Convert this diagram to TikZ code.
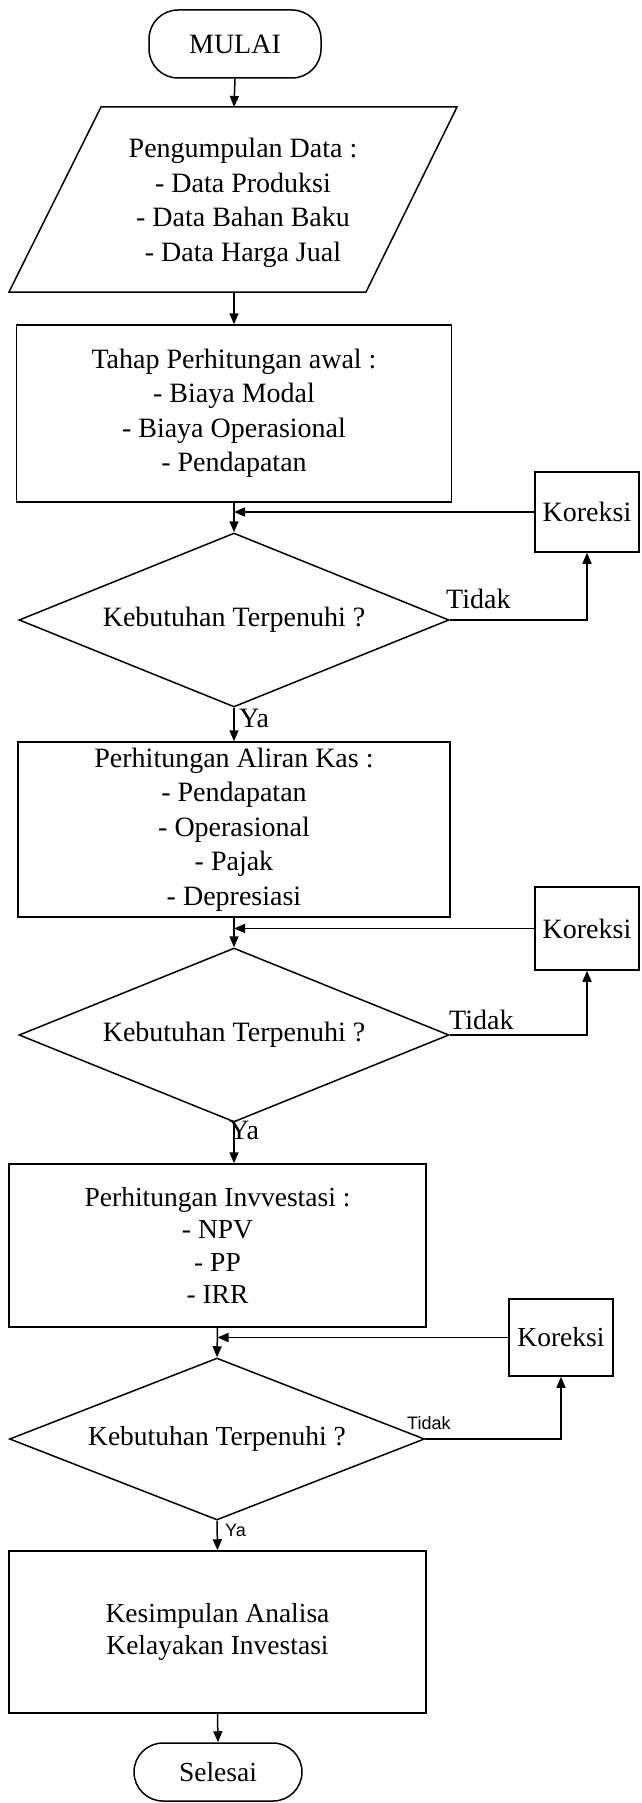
\documentclass[tikz,border=0pt]{standalone}
\usepackage{fontspec}
\setmainfont{Liberation Serif}
\newfontfamily\labelsans{Liberation Sans}
\usetikzlibrary{shapes.geometric,arrows.meta}

\begin{document}
\begin{tikzpicture}[x=1pt,y=-1pt,
    flowline/.style={line width=1.5pt},
    arr/.style={flowline, -{Triangle[length=11pt,width=9pt]}},
    uptext/.style={font=\fontsize{28}{34.5}\selectfont, align=center},
    lowtext/.style={font=\fontsize{27.5}{32.5}\selectfont, align=center},
    terminal/.style={draw, flowline, rectangle, rounded corners=29pt, inner sep=0pt},
    process/.style={draw, flowline, rectangle, inner sep=0pt},
    decision/.style={draw, flowline, diamond, aspect=2.5, inner sep=0pt},
    answer/.style={inner sep=0pt, anchor=west}]
    \useasboundingbox (0,0) rectangle (642,1803);
    
    % Marking start terminal
    \node (start) [terminal, uptext, minimum width=172pt, minimum height=68pt] at (235,44) {MULAI};%
    
    % Drawing data input parallelogram
    \draw [flowline] (101,107) -- (457,107) -- (366,292) -- (9,292) -- cycle;%
    \node (data) [uptext] at (243,203) {Pengumpulan Data :\\- Data Produksi\\- Data Bahan Baku\\- Data Harga Jual};%
    \coordinate (datain) at (234,107);%
    \coordinate (dataout) at (234,292);%
    
    % Marking first stage boxes
    \node (awal) [process, uptext, minimum width=435pt, minimum height=177pt] at (234,413.5) {Tahap Perhitungan awal :\\- Biaya Modal\\- Biaya Operasional\\- Pendapatan};%
    \node (dec1) [decision, uptext, minimum width=430pt, minimum height=174pt] at (234,620) {Kebutuhan Terpenuhi ?};%
    \node (kor1) [process, uptext, minimum width=104pt, minimum height=80pt] at (587,512) {Koreksi};%
    
    % Marking cash flow boxes
    \node (kas) [process, uptext, minimum width=432pt, minimum height=175pt] at (234,829.5) {Perhitungan Aliran Kas :\\- Pendapatan\\- Operasional\\- Pajak\\- Depresiasi};%
    \node (dec2) [decision, uptext, minimum width=430pt, minimum height=174pt] at (234,1035) {Kebutuhan Terpenuhi ?};%
    \node (kor2) [process, uptext, minimum width=104pt, minimum height=83pt] at (587,928.5) {Koreksi};%
    
    % Marking investment boxes
    \node (inv) [process, lowtext, minimum width=417pt, minimum height=163pt] at (217.5,1245.5) {Perhitungan Invvestasi :\\- NPV\\- PP\\- IRR};%
    \node (dec3) [decision, lowtext, minimum width=415pt, minimum height=162pt] at (217,1439) {Kebutuhan Terpenuhi ?};%
    \node (kor3) [process, lowtext, minimum width=104pt, minimum height=77pt] at (561,1337.5) {Koreksi};%
    
    % Marking conclusion and end
    \node (akhir) [process, lowtext, minimum width=417pt, minimum height=162pt] at (217.5,1632) {Kesimpulan Analisa\\Kelayakan Investasi};%
    \node (selesai) [terminal, lowtext, minimum width=168pt, minimum height=58pt] at (218,1772) {Selesai};%
    
    % Drawing main flow
    \draw [arr] (start.south) -- (datain);%
    \draw [arr] (dataout) -- (awal.north);%
    \draw [arr] (awal.south) -- (dec1.north);%
    \draw [arr] (dec1.south) -- (kas.north);%
    \draw [arr] (kas.south) -- (dec2.north);%
    \draw [arr] (dec2.south) -- (dec2.south |- inv.north);%
    \draw [arr] (inv.south) -- (dec3.north);%
    \draw [arr] (dec3.south) -- (akhir.north);%
    \draw [arr] (akhir.south) -- (selesai.north);%
    
    % Drawing correction loops
    \draw [arr] (dec1.east) -| (kor1.south);%
    \draw [arr] (kor1.west) -- (kor1.west -| awal.south);%
    \draw [arr] (dec2.east) -| (kor2.south);%
    \draw [arr] (kor2.west) -- (kor2.west -| kas.south);%
    \draw [arr] (dec3.east) -| (kor3.south);%
    \draw [arr] (kor3.west) -- (kor3.west -| inv.south);%
    
    % Marking answer labels
    \node (tidak1) [answer, uptext] at (446,599) {Tidak};%
    \node (ya1) [answer, uptext] at (239,718) {Ya};%
    \node (tidak2) [answer, uptext] at (449,1020) {Tidak};%
    \node (ya2) [answer, uptext] at (229,1130) {Ya};%
    \node (tidak3) [answer, font=\labelsans\fontsize{18}{20}\selectfont] at (407,1423) {Tidak};%
    \node (ya3) [answer, font=\labelsans\fontsize{18}{20}\selectfont] at (225,1530) {Ya};%
\end{tikzpicture}
\end{document}
